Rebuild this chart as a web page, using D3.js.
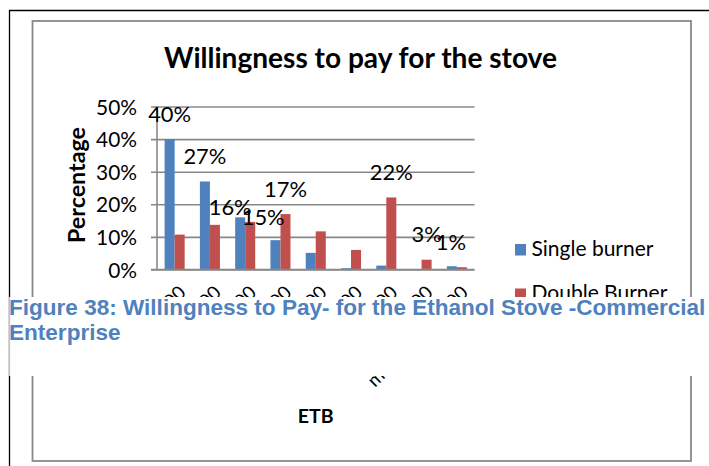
<!DOCTYPE html>
<html>
<head>
<meta charset="utf-8">
<script src="https://cdn.jsdelivr.net/npm/d3@7"></script>
<style>
  html, body { margin: 0; padding: 0; background: #fff; }
  svg { display: block; }
</style>
</head>
<body>
<svg id="chart" width="709" height="466"></svg>
<script>
// ---- data ----
const categories = ["<500", "500-1000", "1000-1500", "1500-2000", "2000-2500",
                    "2500-3000", "3000-3500", "3500-4000", "more than 4000"];
const seriesNames = ["Single burner", "Double Burner"];
const singleBurner = [0.40, 0.27, 0.16, 0.09, 0.051, 0.004, 0.012, 0.0, 0.01];
const doubleBurner = [0.107, 0.137, 0.146, 0.17, 0.117, 0.06, 0.221, 0.03, 0.007];
const yTicks = [0, 0.1, 0.2, 0.3, 0.4, 0.5];
// value labels that are shown: [series index, category index]
const labelledBars = [[0, 0], [0, 1], [0, 2], [1, 2], [1, 3], [1, 6], [1, 7], [1, 8]];

const chartTitle = "Willingness to pay for the stove";
const yTitle = "Percentage";
const xTitle = "ETB";
const captionLines = ["Figure 38: Willingness to Pay- for the Ethanol Stove -Commercial",
                      "Enterprise"];

// ---- layout ----
const colors = ["#4F81BD", "#C0504D"];
const gridColor = "#888888";
const FONT = "Lato, 'Open Sans', sans-serif";
// labels moved off their default spot so they do not collide: "series-category" -> [dx, dy]
const labelShift = { "0-2": [-10, 15], "1-2": [13, 21], "1-8": [-11, 0] };

const svg = d3.select("#chart");

// measure helper: font size that makes `text` span `width` pixels
function fitSize(text, weight, family, width) {
  const t = svg.append("text")
    .attr("font-family", family).attr("font-weight", weight)
    .attr("font-size", 100).text(text);
  const w = t.node().getComputedTextLength();
  t.remove();
  return 100 * width / w;
}

// frames
svg.append("line").attr("x1", 9).attr("x2", 709).attr("y1", 10.5).attr("y2", 10.5)
  .attr("stroke", "#000").attr("stroke-width", 1.3);
svg.append("line").attr("x1", 9.5).attr("x2", 9.5).attr("y1", 10).attr("y2", 466)
  .attr("stroke", "#000").attr("stroke-width", 1.3);
svg.append("rect").attr("x", 32.5).attr("y", 21).attr("width", 658.5).attr("height", 440)
  .attr("fill", "none").attr("stroke", gridColor).attr("stroke-width", 1.8);

// scales
const plot = { left: 157, right: 474.5, top: 106.5, bottom: 269.5 };
const x = d3.scaleBand().domain(categories).range([plot.left, plot.right]).padding(0);
const x1 = d3.scaleBand().domain(seriesNames).range([0, x.bandwidth()])
  .paddingInner(0).paddingOuter(0.76);
const y = d3.scaleLinear().domain([0, 0.5]).range([plot.bottom, plot.top]);

// gridlines + y axis ticks
const yAxis = d3.axisLeft(y).tickValues(yTicks).tickFormat(d3.format(".0%"))
  .tickSize(-(plot.right - plot.left) - 6).tickPadding(14);
const gy = svg.append("g").attr("transform", `translate(${plot.left - 6},0)`).call(yAxis);
gy.select(".domain").remove();
gy.selectAll(".tick line").attr("stroke", gridColor).attr("stroke-width", 1.6);
const tickSize = fitSize("50%", 400, FONT, 41);
gy.selectAll(".tick text").attr("font-family", FONT).attr("font-size", tickSize)
  .attr("fill", "#000").attr("dy", "0.36em");

// vertical value axis line
svg.append("line").attr("x1", plot.left).attr("x2", plot.left)
  .attr("y1", plot.top).attr("y2", plot.bottom)
  .attr("stroke", gridColor).attr("stroke-width", 1.6);

// bars
const seriesData = [singleBurner, doubleBurner];
seriesData.forEach((vals, s) => {
  svg.append("g").selectAll("rect").data(vals).join("rect")
    .attr("x", (d, i) => x(categories[i]) + x1(seriesNames[s]))
    .attr("width", x1.bandwidth())
    .attr("y", d => y(d))
    .attr("height", d => y(0) - y(d))
    .attr("fill", colors[s]);
});

// x-axis line on top of bars
svg.append("line").attr("x1", plot.left - 6).attr("x2", plot.right)
  .attr("y1", y(0)).attr("y2", y(0)).attr("stroke", gridColor).attr("stroke-width", 1.6);

// category labels (rotated)
const catSize = fitSize("50%", 400, FONT, 37);
svg.append("g").selectAll("text").data(categories).join("text")
  .attr("transform", d => `translate(${x(d) + x.bandwidth() / 2 + 3},${plot.bottom + 15}) rotate(-45)`)
  .attr("text-anchor", "end").attr("dy", "0.7em")
  .attr("font-family", FONT).attr("font-size", catSize).attr("fill", "#000")
  .text(d => d);

// value labels
const labelSize = fitSize("40%", 400, FONT, 43);
const fmt = d3.format(".0%");
svg.append("g").selectAll("text").data(labelledBars).join("text")
  .attr("x", ([s, i]) => x(categories[i]) + x1(seriesNames[s]) + x1.bandwidth() / 2
        + (labelShift[s + "-" + i] || [0, 0])[0])
  .attr("y", ([s, i]) => y(seriesData[s][i]) - 17.5 + (labelShift[s + "-" + i] || [0, 0])[1])
  .attr("text-anchor", "middle")
  .attr("font-family", FONT).attr("font-size", labelSize).attr("fill", "#000")
  .text(([s, i]) => fmt(seriesData[s][i]));

// title
svg.append("text").attr("x", 360.5).attr("y", 68).attr("text-anchor", "middle")
  .attr("font-family", FONT).attr("font-weight", 700)
  .attr("font-size", fitSize(chartTitle, 700, FONT, 393)).attr("fill", "#000")
  .text(chartTitle);

// y title
svg.append("text").attr("transform", "translate(85,185) rotate(-90)")
  .attr("text-anchor", "middle")
  .attr("font-family", FONT).attr("font-weight", 700)
  .attr("font-size", fitSize(yTitle, 700, FONT, 116)).attr("fill", "#000")
  .text(yTitle);

// legend
const legendSize = fitSize("Single burner", 400, FONT, 122);
const legend = svg.append("g").selectAll("g").data(seriesNames).join("g")
  .attr("transform", (d, i) => `translate(515,${255.5 + i * 44.5})`);
legend.append("rect").attr("x", 0).attr("y", -11.5).attr("width", 11).attr("height", 11.5)
  .attr("fill", (d, i) => colors[i]);
legend.append("text").attr("x", 16.5).attr("y", 0)
  .attr("font-family", FONT).attr("font-size", legendSize).attr("fill", "#000")
  .text(d => d);

// x title
svg.append("text").attr("x", (plot.left + plot.right) / 2).attr("y", 423)
  .attr("text-anchor", "middle")
  .attr("font-family", FONT).attr("font-weight", 700)
  .attr("font-size", 19.5).attr("fill", "#000")
  .text(xTitle);

// caption band laid over the chart
const CAP_FONT = "'Liberation Sans', Arial, sans-serif";
svg.append("rect").attr("x", 9).attr("y", 297).attr("width", 700).attr("height", 79)
  .attr("fill", "#fff");
svg.append("line").attr("x1", 9.5).attr("x2", 9.5).attr("y1", 297).attr("y2", 376)
  .attr("stroke", "#c4c4c4").attr("stroke-width", 1.3);
const capSize = fitSize(captionLines[0], 700, CAP_FONT, 697);
svg.append("g").selectAll("text").data(captionLines).join("text")
  .attr("x", 9).attr("y", (d, i) => 315 + i * 25)
  .attr("font-family", CAP_FONT).attr("font-weight", 700)
  .attr("font-size", capSize).attr("fill", "#4F81BD")
  .text(d => d);
</script>
</body>
</html>
